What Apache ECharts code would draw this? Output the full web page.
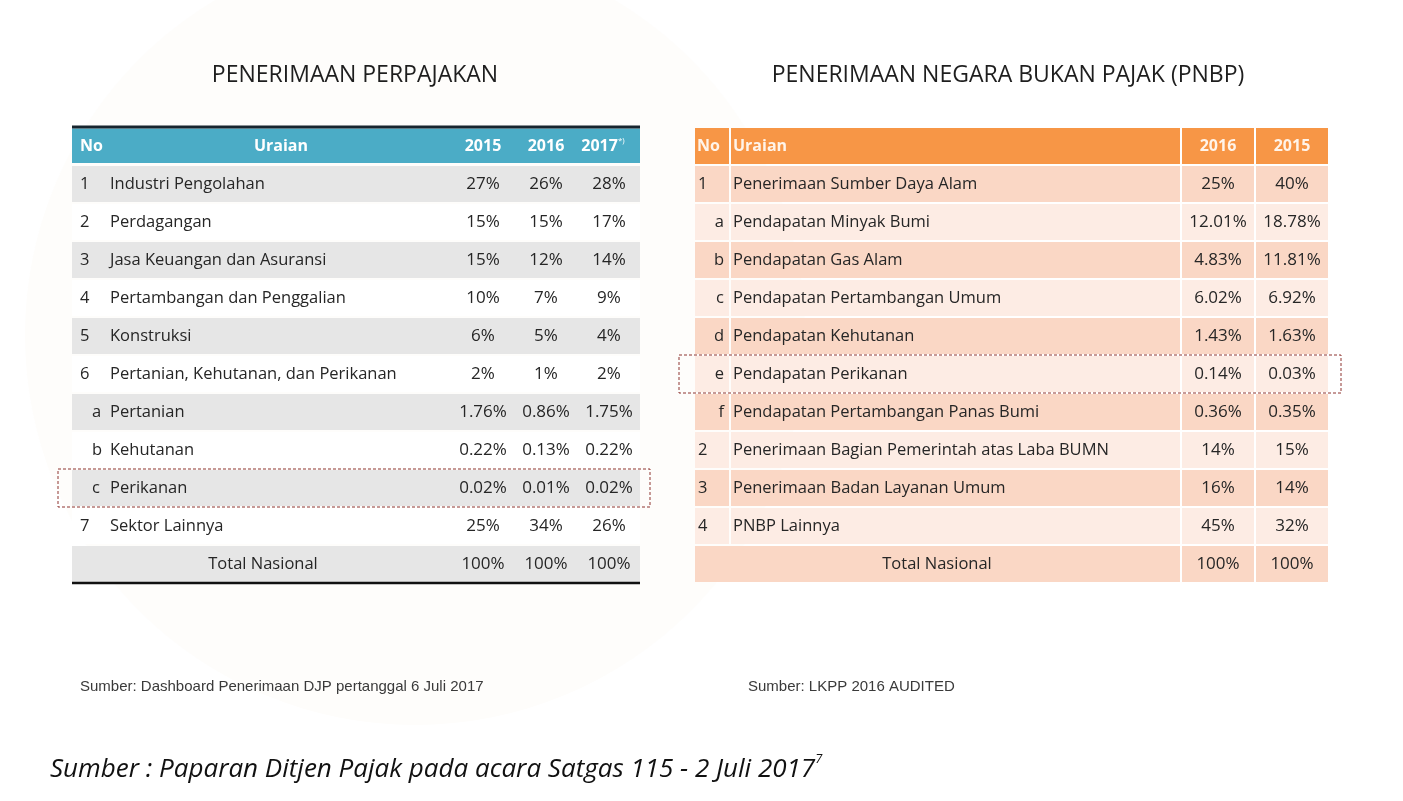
<!DOCTYPE html>
<html>
<head>
<meta charset="utf-8">
<script src="https://cdn.jsdelivr.net/npm/echarts@6/dist/echarts.min.js"></script>
<style>
    html, body { margin: 0; padding: 0; background: #ffffff; }
    #chart { width: 1403px; height: 801px; }
</style>
</head>
<body>
<div id="chart"></div>
<script>
// ------------------- //
// Table data
// ------------------- //

// Penerimaan perpajakan (left table)
const taxNo = ["1", "2", "3", "4", "5", "6", "a", "b", "c", "7", ""];
const taxItems = ["Industri Pengolahan", "Perdagangan", "Jasa Keuangan dan Asuransi", "Pertambangan dan Penggalian",
    "Konstruksi", "Pertanian, Kehutanan, dan Perikanan", "Pertanian", "Kehutanan", "Perikanan", "Sektor Lainnya", "Total Nasional"];
const tax2015 = [27, 15, 15, 10, 6, 2, 1.76, 0.22, 0.02, 25, 100];
const tax2016 = [26, 15, 12, 7, 5, 1, 0.86, 0.13, 0.01, 34, 100];
const tax2017 = [28, 17, 14, 9, 4, 2, 1.75, 0.22, 0.02, 26, 100];
const taxYears = ["2015", "2016", "2017"];

// PNBP (right table)
const pnbpNo = ["1", "a", "b", "c", "d", "e", "f", "2", "3", "4", ""];
const pnbpItems = ["Penerimaan Sumber Daya Alam", "Pendapatan Minyak Bumi", "Pendapatan Gas Alam", "Pendapatan Pertambangan Umum",
    "Pendapatan Kehutanan", "Pendapatan Perikanan", "Pendapatan Pertambangan Panas Bumi",
    "Penerimaan Bagian Pemerintah atas Laba BUMN", "Penerimaan Badan Layanan Umum", "PNBP Lainnya", "Total Nasional"];
const pnbp2016 = [25, 12.01, 4.83, 6.02, 1.43, 0.14, 0.36, 14, 16, 45, 100];
const pnbp2015 = [40, 18.78, 11.81, 6.92, 1.63, 0.03, 0.35, 15, 14, 32, 100];
const pnbpYears = ["2016", "2015"];

// Rows marked with the dashed box
const taxMarked = "Perikanan";
const pnbpMarked = "Pendapatan Perikanan";

// ------------------- //
// Layout (pixels along the hidden value axis)
// ------------------- //
const TAX_W = 568;
const PNBP_W = 633;
const FONT = '"Open Sans", sans-serif';
const ITEM_SIZE = 16.5;
const NUM_SIZE = 17;

// format percentages like the source
function pct(v) {
    return Number.isInteger(v) ? v + "%" : v.toFixed(2) + "%";
}

function txt(x, y, text, align, extra) {
    return {
        type: "text", x: x, y: y,
        style: Object.assign({
            text: text, textAlign: align, align: align,
            textVerticalAlign: "middle", verticalAlign: "middle",
            fontFamily: FONT, fontSize: ITEM_SIZE, fill: "#262626"
        }, extra || {})
    };
}

function num(x, y, v) {
    return txt(x, y, pct(v), "center", { fontSize: NUM_SIZE });
}

function box(x, y, w, h, fill) {
    return { type: "rect", shape: { x: x, y: y, width: w, height: h }, style: { fill: fill } };
}

function dashedBox(x, y, w, h) {
    return {
        type: "rect", shape: { x: x, y: y, width: w, height: h },
        style: { fill: "none", stroke: "#8e3530", lineWidth: 1, lineDash: [3, 2] }
    };
}

// ------------------- //
// Left table renderer
// ------------------- //
function renderTax(params, api) {
    const r = api.value(1);
    const X = v => api.coord([v, r])[0];
    const yc = api.coord([0, r])[1];
    const h = api.size([0, 1])[1];
    const top = yc - h / 2;
    const kids = [];

    if (r === 0) {
        kids.push(box(X(0), top + 1.5, X(TAX_W) - X(0), h - 3.5, "#4BACC6"));
        kids.push({ type: "line", shape: { x1: X(0), y1: top, x2: X(TAX_W), y2: top }, style: { stroke: "#17252e", lineWidth: 3 } });
        const hs = { fill: "#ffffff", fontWeight: "bold", fontSize: 16 };
        kids.push(txt(X(8), yc, "No", "left", hs));
        kids.push(txt(X(209), yc, "Uraian", "center", hs));
        kids.push(txt(X(411), yc, taxYears[0], "center", hs));
        kids.push(txt(X(474), yc, taxYears[1], "center", hs));
        kids.push(txt(X(531), yc, "{y|" + taxYears[2] + "}{s|*)}", "center", {
            fill: "#ffffff", fontWeight: "bold",
            rich: {
                y: { fontFamily: FONT, fontSize: 16, fontWeight: "bold", fill: "#ffffff" },
                s: { fontFamily: FONT, fontSize: 8, fill: "#ffffff", verticalAlign: "top", lineHeight: 18 }
            }
        }));
        return { type: "group", children: kids };
    }

    const i = r - 1;
    const isTotal = i === taxItems.length - 1;
    kids.push(box(X(0), top + 1, X(TAX_W) - X(0), h - 2, i % 2 === 0 ? "#E6E6E6" : "#FFFFFF"));
    const isLetter = /[a-z]/.test(taxNo[i]);
    if (taxNo[i]) kids.push(txt(X(isLetter ? 20 : 8), yc, taxNo[i], "left"));
    if (isTotal) {
        kids.push(txt(X(191), yc, taxItems[i], "center"));
        kids.push({ type: "line", shape: { x1: X(0), y1: top + h, x2: X(TAX_W), y2: top + h }, style: { stroke: "#111111", lineWidth: 2.5 } });
    } else {
        kids.push(txt(X(38), yc, taxItems[i], "left"));
    }
    kids.push(num(X(411), yc, tax2015[i]));
    kids.push(num(X(474), yc, tax2016[i]));
    kids.push(num(X(537), yc, tax2017[i]));
    if (taxItems[i] === taxMarked) {
        kids.push(dashedBox(X(-14), top, X(578) - X(-14), h));
    }
    return { type: "group", children: kids };
}

// ------------------- //
// Right table renderer
// ------------------- //
const pnbpCols = [[0, 34], [36, 485], [487, 559], [561, 633]];

function renderPnbp(params, api) {
    const r = api.value(1);
    const X = v => api.coord([v, r])[0];
    const yc = api.coord([0, r])[1];
    const h = api.size([0, 1])[1];
    const top = yc - h / 2;
    const kids = [];

    if (r === 0) {
        pnbpCols.forEach(c => kids.push(box(X(c[0]), top + 1, X(c[1]) - X(c[0]), h - 2, "#F79646")));
        const hs = { fill: "#FFF4EA", fontWeight: "bold", fontSize: 16 };
        kids.push(txt(X(2), yc, "No", "left", hs));
        kids.push(txt(X(38), yc, "Uraian", "left", hs));
        kids.push(txt(X(523), yc, pnbpYears[0], "center", hs));
        kids.push(txt(X(597), yc, pnbpYears[1], "center", hs));
        return { type: "group", children: kids };
    }

    const i = r - 1;
    const isTotal = i === pnbpItems.length - 1;
    const fill = i % 2 === 0 ? "#FAD7C5" : "#FDECE4";
    if (isTotal) {
        kids.push(box(X(0), top + 1, X(485) - X(0), h - 2, fill));
        pnbpCols.slice(2).forEach(c => kids.push(box(X(c[0]), top + 1, X(c[1]) - X(c[0]), h - 2, fill)));
        kids.push(txt(X(242), yc, pnbpItems[i], "center"));
    } else {
        pnbpCols.forEach(c => kids.push(box(X(c[0]), top + 1, X(c[1]) - X(c[0]), h - 2, fill)));
        const isLetter = /[a-z]/.test(pnbpNo[i]);
        kids.push(txt(X(isLetter ? 29 : 3), yc, pnbpNo[i], isLetter ? "right" : "left"));
        kids.push(txt(X(38), yc, pnbpItems[i], "left"));
    }
    kids.push(num(X(523), yc, pnbp2016[i]));
    kids.push(num(X(597), yc, pnbp2015[i]));
    if (pnbpItems[i] === pnbpMarked) {
        kids.push(dashedBox(X(-16), top, X(646) - X(-16), h));
    }
    return { type: "group", children: kids };
}

// ------------------- //
// Chart
// ------------------- //
const chart = echarts.init(document.getElementById("chart"));

const rowsTax = ["header"].concat(taxItems);
const rowsPnbp = ["header"].concat(pnbpItems);
const hidden = { show: false };

const option = {
    backgroundColor: "#ffffff",
    animation: false,

    // GRIDS: one per table
    grid: [
        { left: 72, top: 127, width: TAX_W, height: 456 },
        { left: 695, top: 127, width: PNBP_W, height: 456 }
    ],
    xAxis: [
        { gridIndex: 0, type: "value", min: 0, max: TAX_W, axisLine: hidden, axisTick: hidden, axisLabel: hidden, splitLine: hidden },
        { gridIndex: 1, type: "value", min: 0, max: PNBP_W, axisLine: hidden, axisTick: hidden, axisLabel: hidden, splitLine: hidden }
    ],
    yAxis: [
        { gridIndex: 0, type: "category", inverse: true, data: rowsTax, axisLine: hidden, axisTick: hidden, axisLabel: hidden, splitLine: hidden },
        { gridIndex: 1, type: "category", inverse: true, data: rowsPnbp, axisLine: hidden, axisTick: hidden, axisLabel: hidden, splitLine: hidden }
    ],

    // TEXT: titles and sources
    graphic: [
        { type: "circle", shape: { cx: 415, cy: 335, r: 390 }, style: { fill: "#FEFDFB" }, z: -10 },
        { type: "text", x: 355, y: 75, style: { text: "PENERIMAAN PERPAJAKAN", font: '23px "Open Sans"', fill: "#1e1e1e", textAlign: "center", textVerticalAlign: "middle" } },
        { type: "text", x: 1008, y: 75, style: { text: "PENERIMAAN NEGARA BUKAN PAJAK (PNBP)", font: '23px "Open Sans"', fill: "#1e1e1e", textAlign: "center", textVerticalAlign: "middle" } },
        { type: "text", x: 80, y: 687, style: { text: "Sumber: Dashboard Penerimaan DJP pertanggal 6 Juli 2017", font: '15px "Liberation Sans"', fill: "#3a3a3a", textVerticalAlign: "middle" } },
        { type: "text", x: 748, y: 687, style: { text: "Sumber: LKPP 2016 AUDITED", font: '15px "Liberation Sans"', fill: "#3a3a3a", textVerticalAlign: "middle" } },
        {
            type: "text", x: 50, y: 770,
            style: {
                text: "{m|Sumber : Paparan Ditjen Pajak pada acara Satgas 115 - 2 Juli 2017}{s|7}",
                textVerticalAlign: "middle",
                rich: {
                    m: { fontFamily: FONT, fontStyle: "italic", fontSize: 26, fill: "#111111" },
                    s: { fontFamily: FONT, fontStyle: "italic", fontSize: 13, fill: "#111111", verticalAlign: "top", lineHeight: 35 }
                }
            }
        }
    ],

    // SERIES: one custom series per table
    series: [
        {
            type: "custom", xAxisIndex: 0, yAxisIndex: 0, clip: false,
            renderItem: renderTax,
            encode: { x: 0, y: 1 },
            data: rowsTax.map((_, r) => [0, r])
        },
        {
            type: "custom", xAxisIndex: 1, yAxisIndex: 1, clip: false,
            renderItem: renderPnbp,
            encode: { x: 0, y: 1 },
            data: rowsPnbp.map((_, r) => [0, r])
        }
    ]
};

chart.setOption(option);
</script>
</body>
</html>
